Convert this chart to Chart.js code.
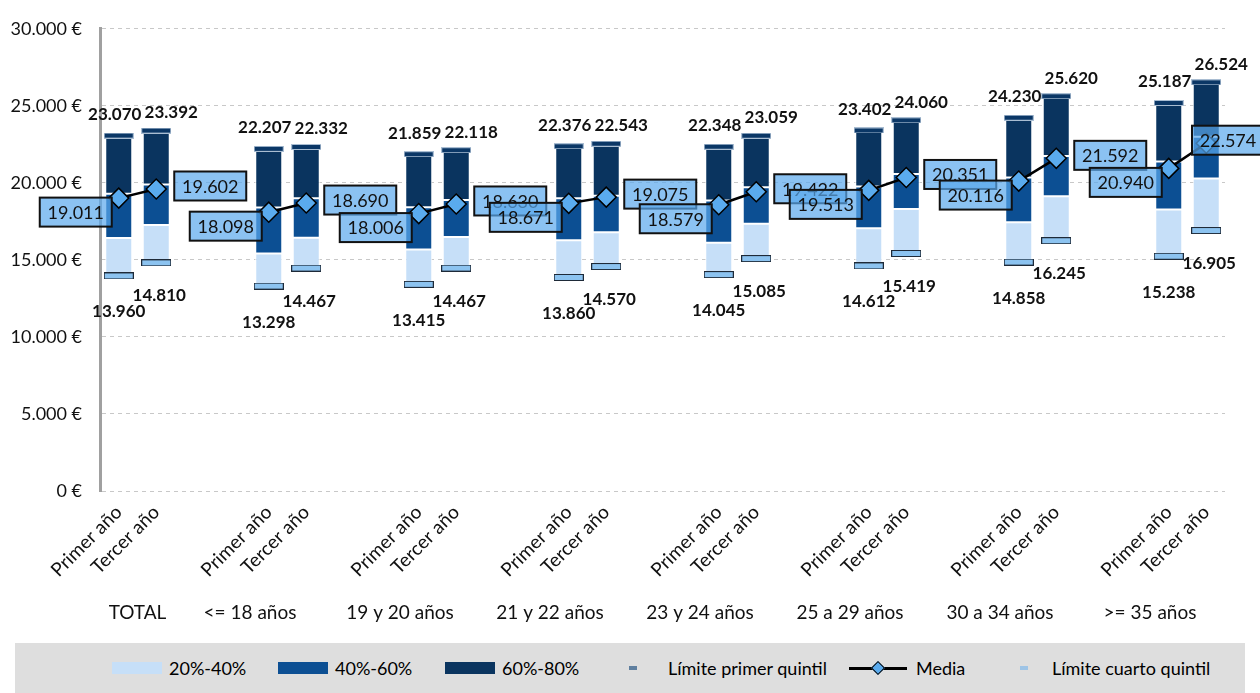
<!DOCTYPE html>
<html lang="es">
<head>
<meta charset="utf-8">
<title>Quintiles por edad</title>
<script src="https://cdn.jsdelivr.net/npm/chart.js@4.4.1/dist/chart.umd.min.js"></script>
<style>
  body { margin: 0; background: #fff; font-family: Lato, sans-serif; }
  #contenedor { width: 1260px; height: 643px; position: relative; }
  #leyenda { list-style: none; margin: 0 15px; padding: 0 0 0 97px; height: 50px; background: #dedede;
             display: flex; align-items: center; font-size: 18px; color: #000; }
  #leyenda li { display: flex; align-items: center; white-space: nowrap; }
</style>
</head>
<body>
<div id="contenedor"><canvas id="grafico"></canvas></div>
<ul id="leyenda"></ul>
<script>
const grupos = ['TOTAL', '<= 18 años', '19 y 20 años', '21 y 22 años', '23 y 24 años', '25 a 29 años', '30 a 34 años', '>= 35 años'];
const periodos = ['Primer año', 'Tercer año'];

// una entrada por barra: Primer año, Tercer año de cada grupo
const p20 = [13960, 14810, 13298, 14467, 13415, 14467, 13860, 14570, 14045, 15085, 14612, 15419, 14858, 16245, 15238, 16905];
const p40 = [16420, 17260, 15410, 16440, 15670, 16480, 16270, 16800, 16120, 17340, 17060, 18310, 17450, 19130, 18270, 20290];
const p60 = [19300, 19900, 18400, 19000, 18420, 18890, 19000, 19170, 18850, 19710, 19770, 20570, 20350, 21750, 21390, 23000];
const p80 = [23070, 23392, 22207, 22332, 21859, 22118, 22376, 22543, 22348, 23059, 23402, 24060, 24230, 25620, 25187, 26524];
const media = [19011, 19602, 18098, 18690, 18006, 18630, 18671, 19075, 18579, 19422, 19513, 20351, 20116, 21592, 20940, 22574];

// huecos entre grupos como en el original
const etiquetas = [];
const posBarra = [];
const centrosGrupo = [];
grupos.forEach((g, i) => {
  const inicio = etiquetas.length;
  if (i > 0) etiquetas.push('', '');
  periodos.forEach(p => { posBarra.push(etiquetas.length); etiquetas.push(p); });
  centrosGrupo.push((inicio + etiquetas.length - 1) / 2);
});

function enHuecos(valores) {
  const out = etiquetas.map(() => null);
  posBarra.forEach((s, k) => { out[s] = valores[k]; });
  return out;
}
function tramos(bajo, alto) {
  const out = etiquetas.map(() => null);
  posBarra.forEach((s, k) => { out[s] = [bajo[k], alto[k]]; });
  return out;
}
const fmt = v => String(Math.round(v)).replace(/\B(?=(\d{3})+(?!\d))/g, '.');

function marca(ancho, alto, relleno, borde) {
  const c = document.createElement('canvas');
  c.width = ancho; c.height = alto;
  const g = c.getContext('2d');
  g.fillStyle = borde; g.fillRect(0, 0, ancho, alto);
  g.fillStyle = relleno; g.fillRect(1, 1, ancho - 2, alto - 2);
  return c;
}
const marcaInferior = marca(30, 7, '#8cc3f0', '#1e2a38');
const marcaSuperior = marca(30, 6, '#0b3766', '#a9bdd2');

const barra = { type: 'bar', borderColor: '#ffffff', borderWidth: 1, borderSkipped: false,
  grouped: false, categoryPercentage: 1, barPercentage: 0.72, order: 3 };

const etiquetasPlugin = {
  id: 'etiquetasValores',
  afterDatasetsDraw(chart) {
    const ctx = chart.ctx;
    const metaInf = chart.getDatasetMeta(3);
    const metaMed = chart.getDatasetMeta(4);
    const metaSup = chart.getDatasetMeta(5);
    ctx.save();
    ctx.textAlign = 'center';
    ctx.textBaseline = 'middle';
    posBarra.forEach((s, k) => {
      const primero = k % 2 === 0;
      const sup = metaSup.data[s], inf = metaInf.data[s];
      ctx.font = 'bold 17px Lato';
      ctx.fillStyle = '#111';
      ctx.fillText(fmt(p80[k]), sup.x + (primero ? -4 : 15), sup.y - (primero ? 21 : 18));
      ctx.fillText(fmt(p20[k]), inf.x + (primero ? 0 : 3), inf.y + (primero ? 36 : 33));
    });
    // cajas de la media
    posBarra.forEach((s, k) => {
      const primero = k % 2 === 0;
      const med = metaMed.data[s];
      const w = 72, h = 29;
      let cx = med.x + (primero ? -43 : 54);
      const cy = med.y + (primero ? 14 : -3);
      cx = Math.min(cx, chart.width + 4 - w / 2);
      ctx.fillStyle = 'rgba(90,168,236,0.7)';
      ctx.fillRect(cx - w / 2, cy - h / 2, w, h);
      ctx.lineWidth = 2;
      ctx.strokeStyle = '#111';
      ctx.strokeRect(cx - w / 2, cy - h / 2, w, h);
      ctx.font = '18px Lato';
      ctx.fillStyle = '#111';
      ctx.fillText(fmt(media[k]), cx, cy + 1);
    });
    ctx.restore();
  }
};

const ctx = document.getElementById('grafico').getContext('2d');
const grafico = new Chart(ctx, {
  type: 'bar',
  data: {
    labels: etiquetas,
    datasets: [
      { ...barra, label: '20%-40%', data: tramos(p20, p40), backgroundColor: '#c6dff8' },
      { ...barra, label: '40%-60%', data: tramos(p40, p60), backgroundColor: '#0c4f93' },
      { ...barra, label: '60%-80%', data: tramos(p60, p80), backgroundColor: '#0a345f' },
      { type: 'line', label: 'Límite primer quintil', data: enHuecos(p20), showLine: false,
        pointStyle: marcaInferior, pointRadius: 3, order: 1 },
      { type: 'line', label: 'Media', data: enHuecos(media), borderColor: '#000', borderWidth: 2.5,
        spanGaps: false, pointStyle: 'rectRot', pointRadius: 10, pointBackgroundColor: '#5aabee',
        pointBorderColor: '#000', pointBorderWidth: 1.5, order: 0 },
      { type: 'line', label: 'Límite cuarto quintil', data: enHuecos(p80), showLine: false,
        pointStyle: marcaSuperior, pointRadius: 3, order: 2 }
    ]
  },
  options: {
    responsive: true,
    maintainAspectRatio: false,
    animation: false,
    events: [],
    layout: { padding: { top: 25, right: 35, left: 0, bottom: 0 } },
    plugins: { legend: { display: false }, tooltip: { enabled: false } },
    scales: {
      x: {
        grid: { display: false },
        border: { display: false },
        ticks: { autoSkip: false, maxRotation: 45, minRotation: 45, font: { family: 'Lato', size: 19 }, color: '#111', padding: 2 },
        afterFit: s => { s.height = 100; }
      },
      x2: {
        type: 'linear', position: 'bottom', weight: 1, offset: false,
        min: -0.5, max: etiquetas.length - 0.5,
        grid: { display: false },
        border: { display: false },
        afterBuildTicks: s => { s.ticks = centrosGrupo.map(v => ({ value: v })); },
        ticks: { callback: (v, i) => grupos[i], autoSkip: false, maxRotation: 0,
                 font: { family: 'Lato', size: 19 }, color: '#111', padding: 2 },
        afterFit: s => { s.height = 52; }
      },
      y: {
        min: 0, max: 30000,
        ticks: { stepSize: 5000, callback: v => fmt(v) + ' €', font: { family: 'Lato', size: 18 }, color: '#111', padding: 18 },
        grid: { color: '#c8c8c8', lineWidth: 1, drawTicks: false },
        border: { color: '#a0a0a0', width: 3, dash: [4, 4] },
        afterFit: s => { s.width = 100; }
      }
    }
  },
  plugins: [etiquetasPlugin]
});

// leyenda propia bajo el gráfico
const ul = document.getElementById('leyenda');
const anchos = [166, 167, 184, 220, 171, null];
grafico.data.datasets.forEach((ds, i) => {
  const li = document.createElement('li');
  if (anchos[i]) li.style.width = anchos[i] + 'px';
  let muestra;
  if (i < 3) {
    muestra = `<span style="display:inline-block;width:50px;height:12px;background:${ds.backgroundColor};margin-right:7px;"></span>`;
  } else if (ds.label === 'Media') {
    muestra = `<span style="position:relative;display:inline-block;width:58px;height:12px;margin-right:9px;">
      <span style="position:absolute;left:0;right:0;top:5px;height:2.5px;background:#000;"></span>
      <span style="position:absolute;left:24px;top:1px;width:8px;height:8px;background:${ds.pointBackgroundColor};border:1px solid #000;transform:rotate(45deg);"></span></span>`;
  } else {
    const inferior = ds.pointStyle === marcaInferior;
    const relleno = inferior ? '#5f7f9f' : '#9ec4e6';
    const gap = inferior ? 31 : 24;
    muestra = `<span style="display:inline-block;width:8px;height:4px;background:${relleno};margin-right:${gap}px;"></span>`;
  }
  li.innerHTML = muestra + ds.label;
  ul.appendChild(li);
});
</script>
</body>
</html>
